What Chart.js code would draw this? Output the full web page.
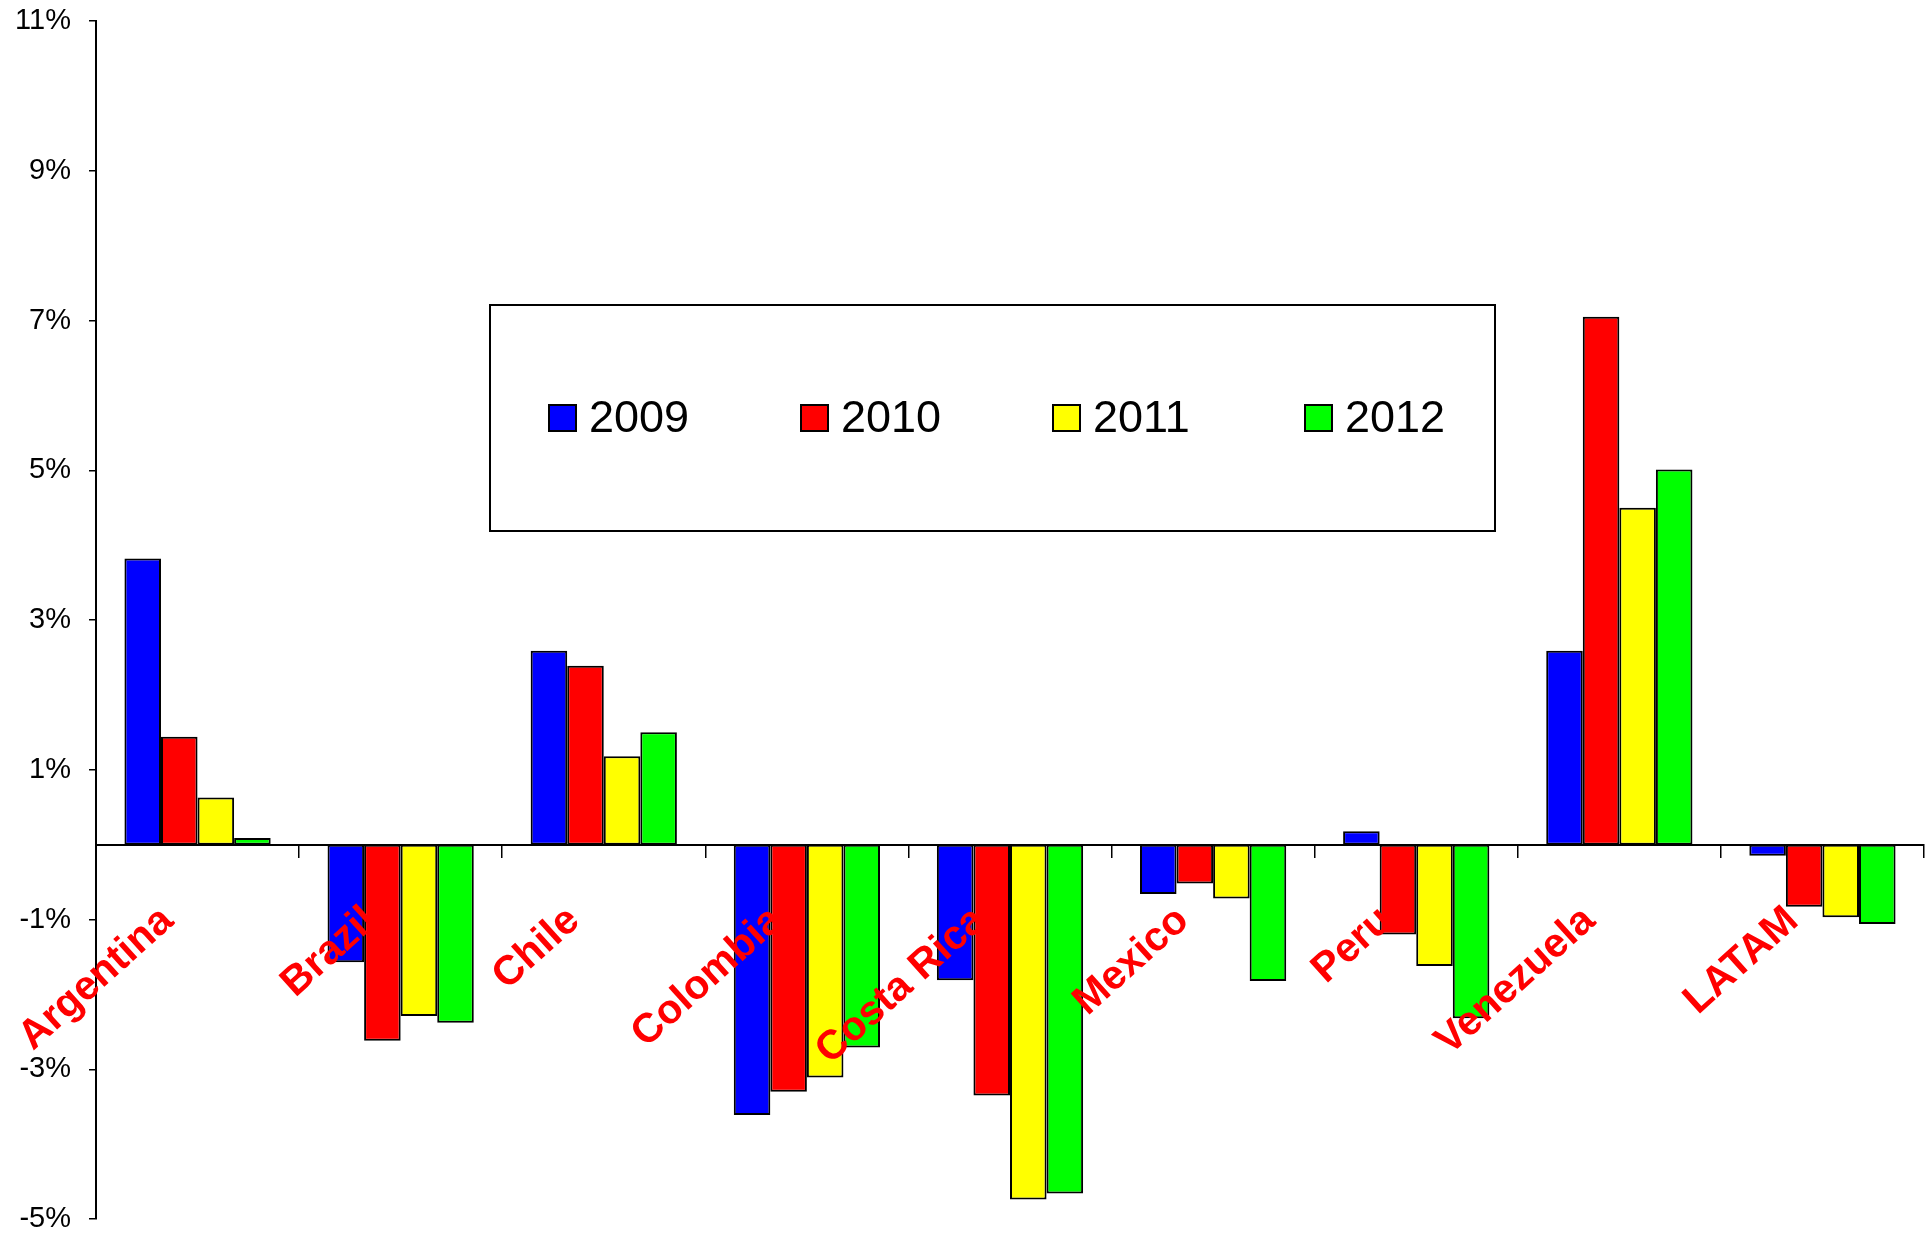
<!DOCTYPE html>
<html>
<head>
<meta charset="utf-8">
<script src="https://cdn.jsdelivr.net/npm/chart.js@4"></script>
<style>
  html, body { margin: 0; padding: 0; background: #fff; }
  #wrap { width: 1927px; height: 1234px; }
</style>
</head>
<body>
<div id="wrap"><canvas id="chart"></canvas></div>
<script>
// data (percent)
const countries = ['Argentina', 'Brazil', 'Chile', 'Colombia', 'Costa Rica', 'Mexico', 'Peru', 'Venezuela', 'LATAM'];
const years = ['2009', '2010', '2011', '2012'];
const v2009 = [3.82, -1.57, 2.59, -3.61, -1.81, -0.66, 0.18, 2.59, -0.15];
const v2010 = [1.44, -2.62, 2.39, -3.30, -3.35, -0.52, -1.20, 7.05, -0.83];
const v2011 = [0.63, -2.29, 1.18, -3.11, -4.74, -0.72, -1.62, 4.50, -0.97];
const v2012 = [0.09, -2.38, 1.50, -2.71, -4.66, -1.82, -2.32, 5.01, -1.06];
const colors = ['#0000ff', '#ff0000', '#ffff00', '#00ff00'];

const FONT = "'Liberation Sans', Arial, sans-serif";

// legend drawn as a framed box inside the plot
const boxLegend = {
    id: 'boxLegend',
    afterDraw(chart) {
        const ctx = chart.ctx;
        const bx = 490, by = 305, bw = 1005, bh = 226;
        ctx.save();
        ctx.fillStyle = '#fff';
        ctx.fillRect(bx, by, bw, bh);
        ctx.strokeStyle = '#000';
        ctx.lineWidth = 2;
        ctx.strokeRect(bx, by, bw, bh);
        const cy = by + bh / 2;
        ctx.font = '45px ' + FONT;
        ctx.textBaseline = 'middle';
        chart.data.datasets.forEach(function(ds, i) {
            const x = 549 + i * 252;
            ctx.fillStyle = ds.backgroundColor;
            ctx.fillRect(x, cy - 13, 27, 26);
            ctx.lineWidth = 2;
            ctx.strokeRect(x, cy - 13, 27, 26);
            ctx.fillStyle = '#000';
            ctx.fillText(ds.label, x + 40, cy + 2);
        });
        ctx.restore();
    }
};

const series = [v2009, v2010, v2011, v2012];

new Chart(document.getElementById('chart').getContext('2d'), {
    type: 'bar',
    data: {
        labels: countries,
        datasets: series.map(function(vals, i) {
            return {
                label: years[i],
                data: vals,
                backgroundColor: colors[i],
                borderColor: '#000',
                borderWidth: 2,
                borderSkipped: false,
                categoryPercentage: 0.72,
                barPercentage: 1.0
            };
        })
    },
    options: {
        responsive: true,
        maintainAspectRatio: false,
        animation: false,
        layout: { padding: { top: 21, right: 3, bottom: 15, left: 0 } },
        plugins: {
            legend: { display: false },
            tooltip: { enabled: false }
        },
        scales: {
            x: {
                position: { y: 0 },
                afterFit: function(scale) {
                    scale.paddingLeft = 0;
                    scale.paddingRight = 0;
                },
                grid: {
                    drawOnChartArea: false,
                    drawTicks: true,
                    tickLength: 12,
                    color: '#000',
                    lineWidth: 1.5
                },
                border: { display: true, color: '#000', width: 2 },
                ticks: {
                    z: 1,   // labels over the bars, as in the original
                    autoSkip: false,
                    minRotation: 42,
                    maxRotation: 42,
                    padding: 40,
                    labelOffset: -30,
                    color: '#ff0000',
                    font: { family: FONT, size: 41, weight: 'bold' }
                }
            },
            y: {
                min: -5,
                max: 11,
                afterFit: function(scale) {
                    scale.width = 96;
                    scale.paddingTop = 0;
                    scale.paddingBottom = 0;
                },
                grid: {
                    drawOnChartArea: false,
                    drawTicks: true,
                    tickLength: 7,
                    color: '#000',
                    lineWidth: 1.5
                },
                border: { display: true, color: '#000', width: 2 },
                ticks: {
                    stepSize: 2,
                    padding: 18,
                    color: '#000',
                    font: { family: FONT, size: 29 },
                    callback: function(v) { return v + '%'; }
                }
            }
        }
    },
    plugins: [boxLegend]
});
</script>
</body>
</html>
